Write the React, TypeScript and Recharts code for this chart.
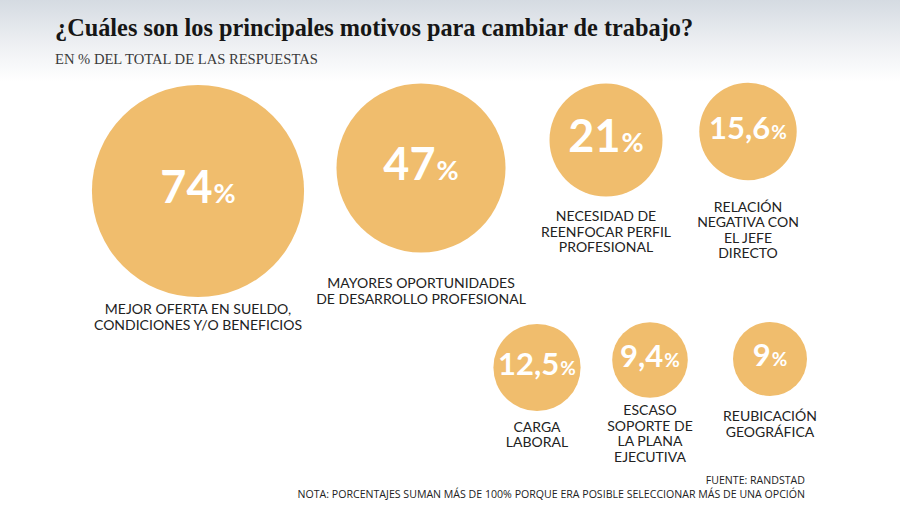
import { ScatterChart, Scatter, XAxis, YAxis, ZAxis } from 'recharts';

// motivos (texto bajo cada burbuja, una línea por elemento)
const MOTIVOS = [
  ['MEJOR OFERTA EN SUELDO,', 'CONDICIONES Y/O BENEFICIOS'],
  ['MAYORES OPORTUNIDADES', 'DE DESARROLLO PROFESIONAL'],
  ['NECESIDAD DE', 'REENFOCAR PERFIL', 'PROFESIONAL'],
  ['RELACIÓN', 'NEGATIVA CON', 'EL JEFE', 'DIRECTO'],
  ['CARGA', 'LABORAL'],
  ['ESCASO', 'SOPORTE DE', 'LA PLANA', 'EJECUTIVA'],
  ['REUBICACIÓN', 'GEOGRÁFICA'],
];

// % del total de las respuestas
const PORCENTAJES = [74, 47, 21, 15.6, 12.5, 9.4, 9];
const ETIQUETAS_VALOR = ['74', '47', '21', '15,6', '12,5', '9,4', '9'];

// posición de cada burbuja en el lienzo (unidades de los ejes ocultos)
const POS_X = [198, 421, 606, 748, 537, 650, 770];
const POS_Y = [191, 168, 140, 131.5, 367.5, 360, 359];
// distancia del centro de la burbuja a la primera línea del texto
const TEXTO_DY = [118, 115, 76, 75, 59, 50, 57];

const W = 900;
const H = 519;
const AMARILLO = '#F0BD6D';
const K = 12.33; // radio = K * sqrt(valor)

const data = PORCENTAJES.map((v, i) => ({
  x: POS_X[i],
  y: POS_Y[i],
  v,
  valor: ETIQUETAS_VALOR[i],
  lineas: MOTIVOS[i],
  dy: TEXTO_DY[i],
}));

function Burbuja(props: any) {
  const { cx, cy, size, payload } = props;
  const r = props.width ? props.width / 2 : Math.sqrt(size / Math.PI);
  const grande = payload.v >= 20;
  const fs = grande ? 45 : 31;
  const fsPct = grande ? 27 : 19;
  return (
    <g>
      <circle cx={cx} cy={cy} r={r} fill={AMARILLO} />
      <text
        x={cx}
        y={cy + fs * 0.36 - 4}
        textAnchor="middle"
        fill="#fff"
        fontFamily="Lato, sans-serif"
        fontWeight={700}
      >
        <tspan fontSize={fs}>{payload.valor}</tspan>
        <tspan fontSize={fsPct} dx={1}>%</tspan>
      </text>
      <text
        textAnchor="middle"
        fill="#222"
        fontFamily="Lato, sans-serif"
        fontSize={14}
      >
        {payload.lineas.map((l: string, j: number) => (
          <tspan key={j} x={cx} y={cy + payload.dy + 5 + j * 15.5}>
            {l}
          </tspan>
        ))}
      </text>
    </g>
  );
}

export default function App() {
  return (
    <div
      style={{
        position: 'absolute',
        left: 0,
        top: 0,
        width: W,
        height: H,
        background: '#fff',
        overflow: 'hidden',
      }}
    >
      <div
        style={{
          position: 'absolute',
          left: 0,
          top: 0,
          width: W,
          height: 82,
          background: 'linear-gradient(to bottom, #d5dbe2 0%, #eef0f3 55%, #ffffff 100%)',
        }}
      />
      <div
        style={{
          position: 'absolute',
          left: 55,
          top: 14,
          fontFamily: '"Liberation Serif", serif',
          fontWeight: 700,
          fontSize: 24.3,
          color: '#161616',
          whiteSpace: 'nowrap',
        }}
      >
        ¿Cuáles son los principales motivos para cambiar de trabajo?
      </div>
      <div
        style={{
          position: 'absolute',
          left: 55,
          top: 51,
          fontFamily: '"Liberation Serif", serif',
          fontSize: 14.6,
          color: '#3a3a3a',
          whiteSpace: 'nowrap',
        }}
      >
        EN % DEL TOTAL DE LAS RESPUESTAS
      </div>
      <div style={{ position: 'absolute', left: 0, top: 0 }}>
        <ScatterChart width={W} height={H} margin={{ top: 0, right: 0, bottom: 0, left: 0 }}>
          <XAxis type="number" dataKey="x" domain={[0, W]} hide />
          <YAxis type="number" dataKey="y" domain={[0, H]} reversed hide />
          <ZAxis type="number" dataKey="v" domain={[0, 100]} range={[0, Math.PI * K * K * 100]} />
          <Scatter data={data} shape={Burbuja} isAnimationActive={false} />
        </ScatterChart>
      </div>
      <div
        style={{
          position: 'absolute',
          right: 95,
          top: 473,
          textAlign: 'right',
          fontFamily: '"Open Sans", sans-serif',
          fontSize: 10.6,
          lineHeight: '14px',
          color: '#222',
          whiteSpace: 'nowrap',
        }}
      >
        <div>FUENTE: RANDSTAD</div>
        <div>NOTA: PORCENTAJES SUMAN MÁS DE 100% PORQUE ERA POSIBLE SELECCIONAR MÁS DE UNA OPCIÓN</div>
      </div>
    </div>
  );
}
